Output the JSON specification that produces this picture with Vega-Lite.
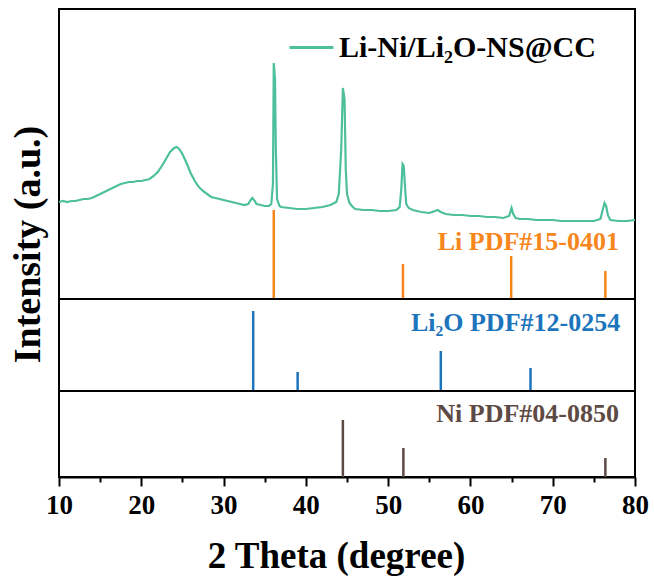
{
  "$schema": "https://vega.github.io/schema/vega-lite/v6.json",
  "background": "white",
  "padding": {"left": 8, "top": 8, "right": 4, "bottom": 5},
  "bounds": "flush",
  "spacing": 0,
  "config": {
    "view": {"stroke": "black", "strokeWidth": 2},
    "font": "Liberation Serif"
  },
  "datasets": {
    "xrd": [
      {"theta": 10.0, "intensity": 97}, {"theta": 10.5, "intensity": 98}, {"theta": 11.0, "intensity": 97},
      {"theta": 11.5, "intensity": 98}, {"theta": 12.0, "intensity": 98}, {"theta": 12.5, "intensity": 99},
      {"theta": 13.0, "intensity": 100}, {"theta": 13.5, "intensity": 100}, {"theta": 14.0, "intensity": 101},
      {"theta": 14.5, "intensity": 103}, {"theta": 15.0, "intensity": 105}, {"theta": 15.5, "intensity": 107},
      {"theta": 16.0, "intensity": 109}, {"theta": 16.5, "intensity": 111}, {"theta": 17.0, "intensity": 113},
      {"theta": 17.5, "intensity": 115}, {"theta": 18.0, "intensity": 116}, {"theta": 18.5, "intensity": 117},
      {"theta": 19.0, "intensity": 117}, {"theta": 19.5, "intensity": 118}, {"theta": 20.0, "intensity": 118},
      {"theta": 20.5, "intensity": 119}, {"theta": 21.0, "intensity": 120}, {"theta": 21.5, "intensity": 123},
      {"theta": 22.0, "intensity": 127}, {"theta": 22.5, "intensity": 133}, {"theta": 23.0, "intensity": 140},
      {"theta": 23.5, "intensity": 147}, {"theta": 24.0, "intensity": 151}, {"theta": 24.3, "intensity": 152},
      {"theta": 24.6, "intensity": 150}, {"theta": 25.0, "intensity": 145}, {"theta": 25.5, "intensity": 136},
      {"theta": 26.0, "intensity": 126}, {"theta": 26.5, "intensity": 118}, {"theta": 27.0, "intensity": 112},
      {"theta": 27.5, "intensity": 108}, {"theta": 28.0, "intensity": 105}, {"theta": 28.5, "intensity": 102},
      {"theta": 29.0, "intensity": 101}, {"theta": 30.0, "intensity": 99}, {"theta": 31.0, "intensity": 97},
      {"theta": 32.0, "intensity": 95}, {"theta": 32.5, "intensity": 94}, {"theta": 33.0, "intensity": 95},
      {"theta": 33.3, "intensity": 99}, {"theta": 33.5, "intensity": 101}, {"theta": 33.8, "intensity": 98},
      {"theta": 34.0, "intensity": 95}, {"theta": 34.5, "intensity": 94}, {"theta": 35.0, "intensity": 93},
      {"theta": 35.5, "intensity": 93}, {"theta": 35.8, "intensity": 95}, {"theta": 36.0, "intensity": 115},
      {"theta": 36.1, "intensity": 236}, {"theta": 36.25, "intensity": 220}, {"theta": 36.35, "intensity": 150},
      {"theta": 36.5, "intensity": 100}, {"theta": 36.8, "intensity": 93}, {"theta": 37.0, "intensity": 92},
      {"theta": 38.0, "intensity": 91}, {"theta": 39.0, "intensity": 90}, {"theta": 40.0, "intensity": 90},
      {"theta": 41.0, "intensity": 91}, {"theta": 42.0, "intensity": 92}, {"theta": 43.0, "intensity": 94},
      {"theta": 43.7, "intensity": 97}, {"theta": 44.0, "intensity": 105}, {"theta": 44.3, "intensity": 150},
      {"theta": 44.5, "intensity": 211}, {"theta": 44.7, "intensity": 200}, {"theta": 44.85, "intensity": 130},
      {"theta": 45.0, "intensity": 105}, {"theta": 45.3, "intensity": 96}, {"theta": 45.7, "intensity": 92},
      {"theta": 46.0, "intensity": 90}, {"theta": 47.0, "intensity": 89}, {"theta": 48.0, "intensity": 89},
      {"theta": 49.0, "intensity": 88}, {"theta": 50.0, "intensity": 88}, {"theta": 51.0, "intensity": 89},
      {"theta": 51.4, "intensity": 92}, {"theta": 51.6, "intensity": 110}, {"theta": 51.75, "intensity": 135},
      {"theta": 51.9, "intensity": 133}, {"theta": 52.05, "intensity": 112}, {"theta": 52.2, "intensity": 95},
      {"theta": 52.5, "intensity": 91}, {"theta": 53.0, "intensity": 89}, {"theta": 54.0, "intensity": 87},
      {"theta": 55.0, "intensity": 86}, {"theta": 55.7, "intensity": 88}, {"theta": 56.0, "intensity": 89},
      {"theta": 56.4, "intensity": 87}, {"theta": 57.0, "intensity": 85}, {"theta": 58.0, "intensity": 84},
      {"theta": 59.0, "intensity": 84}, {"theta": 60.0, "intensity": 83}, {"theta": 61.0, "intensity": 83},
      {"theta": 62.0, "intensity": 82}, {"theta": 63.0, "intensity": 82}, {"theta": 64.0, "intensity": 81},
      {"theta": 64.7, "intensity": 83}, {"theta": 65.0, "intensity": 91}, {"theta": 65.2, "intensity": 85},
      {"theta": 65.5, "intensity": 81}, {"theta": 66.0, "intensity": 80}, {"theta": 67.0, "intensity": 80},
      {"theta": 68.0, "intensity": 79}, {"theta": 69.0, "intensity": 79}, {"theta": 70.0, "intensity": 79},
      {"theta": 71.0, "intensity": 78}, {"theta": 72.0, "intensity": 78}, {"theta": 73.0, "intensity": 78},
      {"theta": 74.0, "intensity": 78}, {"theta": 75.0, "intensity": 78}, {"theta": 75.8, "intensity": 80},
      {"theta": 76.1, "intensity": 90}, {"theta": 76.3, "intensity": 96}, {"theta": 76.5, "intensity": 93},
      {"theta": 76.7, "intensity": 84}, {"theta": 77.0, "intensity": 79}, {"theta": 78.0, "intensity": 78},
      {"theta": 79.0, "intensity": 78}, {"theta": 80.0, "intensity": 79}
    ],
    "li": [
      {"theta": 36.1, "intensity": 89}, {"theta": 51.8, "intensity": 35},
      {"theta": 64.95, "intensity": 43}, {"theta": 76.4, "intensity": 28}
    ],
    "li2o": [
      {"theta": 33.6, "intensity": 80}, {"theta": 39.0, "intensity": 19},
      {"theta": 56.4, "intensity": 40}, {"theta": 67.3, "intensity": 23}
    ],
    "ni": [
      {"theta": 44.5, "intensity": 57}, {"theta": 51.85, "intensity": 29},
      {"theta": 76.4, "intensity": 19}
    ]
  },
  "vconcat": [
    {
      "width": 576,
      "height": 290,
      "layer": [
        {
          "data": {"name": "xrd"},
          "mark": {"type": "line", "strokeWidth": 2.2},
          "encoding": {
            "x": {"field": "theta", "type": "quantitative", "scale": {"domain": [10, 80], "nice": false}, "axis": null},
            "y": {
              "field": "intensity", "type": "quantitative", "scale": {"domain": [0, 290], "nice": false},
              "axis": {
                "title": "Intensity (a.u.)", "domain": false, "ticks": false, "labels": false, "grid": false,
                "titleFontSize": 38, "titleFontWeight": "bold", "titleFont": "Liberation Serif",
                "titleColor": "black", "titleY": 235, "titlePadding": 12
              }
            },
            "color": {
              "datum": "Li-Ni/Li₂O-NS@CC",
              "scale": {"range": ["#4DBF9C"]},
              "legend": {
                "orient": "none", "legendX": 229, "legendY": 15, "title": null,
                "symbolType": "stroke", "symbolSize": 1936, "symbolStrokeWidth": 3,
                "labelFontSize": 30, "labelFontWeight": "bold", "labelFont": "Liberation Serif",
                "labelColor": "black", "labelLimit": 0, "labelOffset": 4, "padding": 0
              }
            }
          }
        },
        {
          "data": {"name": "li"},
          "mark": {"type": "rule", "color": "#F7861C", "strokeWidth": 2.5},
          "encoding": {
            "x": {"field": "theta", "type": "quantitative"},
            "y": {"field": "intensity", "type": "quantitative"},
            "y2": {"datum": 0}
          }
        },
        {
          "data": {"values": [{"label": "Li PDF#15-0401"}]},
          "mark": {"type": "text", "align": "right", "baseline": "middle", "fontSize": 26, "fontWeight": "bold", "color": "#F7861C", "font": "Liberation Serif"},
          "encoding": {
            "text": {"field": "label"},
            "x": {"datum": 78.05, "type": "quantitative"},
            "y": {"datum": 57, "type": "quantitative"}
          }
        }
      ]
    },
    {
      "width": 576,
      "height": 92,
      "layer": [
        {
          "data": {"name": "li2o"},
          "mark": {"type": "rule", "color": "#1C75BC", "strokeWidth": 2.5},
          "encoding": {
            "x": {"field": "theta", "type": "quantitative", "scale": {"domain": [10, 80], "nice": false}, "axis": null},
            "y": {"field": "intensity", "type": "quantitative", "scale": {"domain": [0, 92], "nice": false}, "axis": null},
            "y2": {"datum": 0}
          }
        },
        {
          "data": {"values": [{"label": "Li₂O PDF#12-0254"}]},
          "mark": {"type": "text", "align": "right", "baseline": "middle", "fontSize": 26, "fontWeight": "bold", "color": "#1C75BC", "font": "Liberation Serif"},
          "encoding": {
            "text": {"field": "label"},
            "x": {"datum": 78.2, "type": "quantitative"},
            "y": {"datum": 68, "type": "quantitative"}
          }
        }
      ]
    },
    {
      "width": 576,
      "height": 86,
      "layer": [
        {
          "data": {"name": "ni"},
          "mark": {"type": "rule", "color": "#5E4A44", "strokeWidth": 2.5},
          "encoding": {
            "x": {
              "field": "theta", "type": "quantitative", "scale": {"domain": [10, 80], "nice": false},
              "axis": {
                "title": "2 Theta (degree)", "values": [10, 15, 20, 25, 30, 35, 40, 45, 50, 55, 60, 65, 70, 75, 80],
                "labelExpr": "datum.value % 10 === 0 ? datum.label : ''",
                "tickSize": {"condition": {"test": "datum.value % 10 === 0", "value": 9}, "value": 5},
                "tickWidth": 2, "tickColor": "black", "domainColor": "black", "domainWidth": 2,
                "labelFontSize": 27, "labelFontWeight": "bold", "labelColor": "black", "labelFont": "Liberation Serif",
                "labelPadding": 6, "labelOverlap": false, "labelFlush": false,
                "titleFontSize": 37, "titleFontWeight": "bold", "titleColor": "black", "titleFont": "Liberation Serif",
                "titlePadding": 20, "titleX": 277, "grid": false
              }
            },
            "y": {"field": "intensity", "type": "quantitative", "scale": {"domain": [0, 86], "nice": false}, "axis": null},
            "y2": {"datum": 0}
          }
        },
        {
          "data": {"values": [{"label": "Ni PDF#04-0850"}]},
          "mark": {"type": "text", "align": "right", "baseline": "middle", "fontSize": 26, "fontWeight": "bold", "color": "#5E4A44", "font": "Liberation Serif"},
          "encoding": {
            "text": {"field": "label"},
            "x": {"datum": 78.05, "type": "quantitative"},
            "y": {"datum": 63, "type": "quantitative"}
          }
        }
      ]
    }
  ]
}
